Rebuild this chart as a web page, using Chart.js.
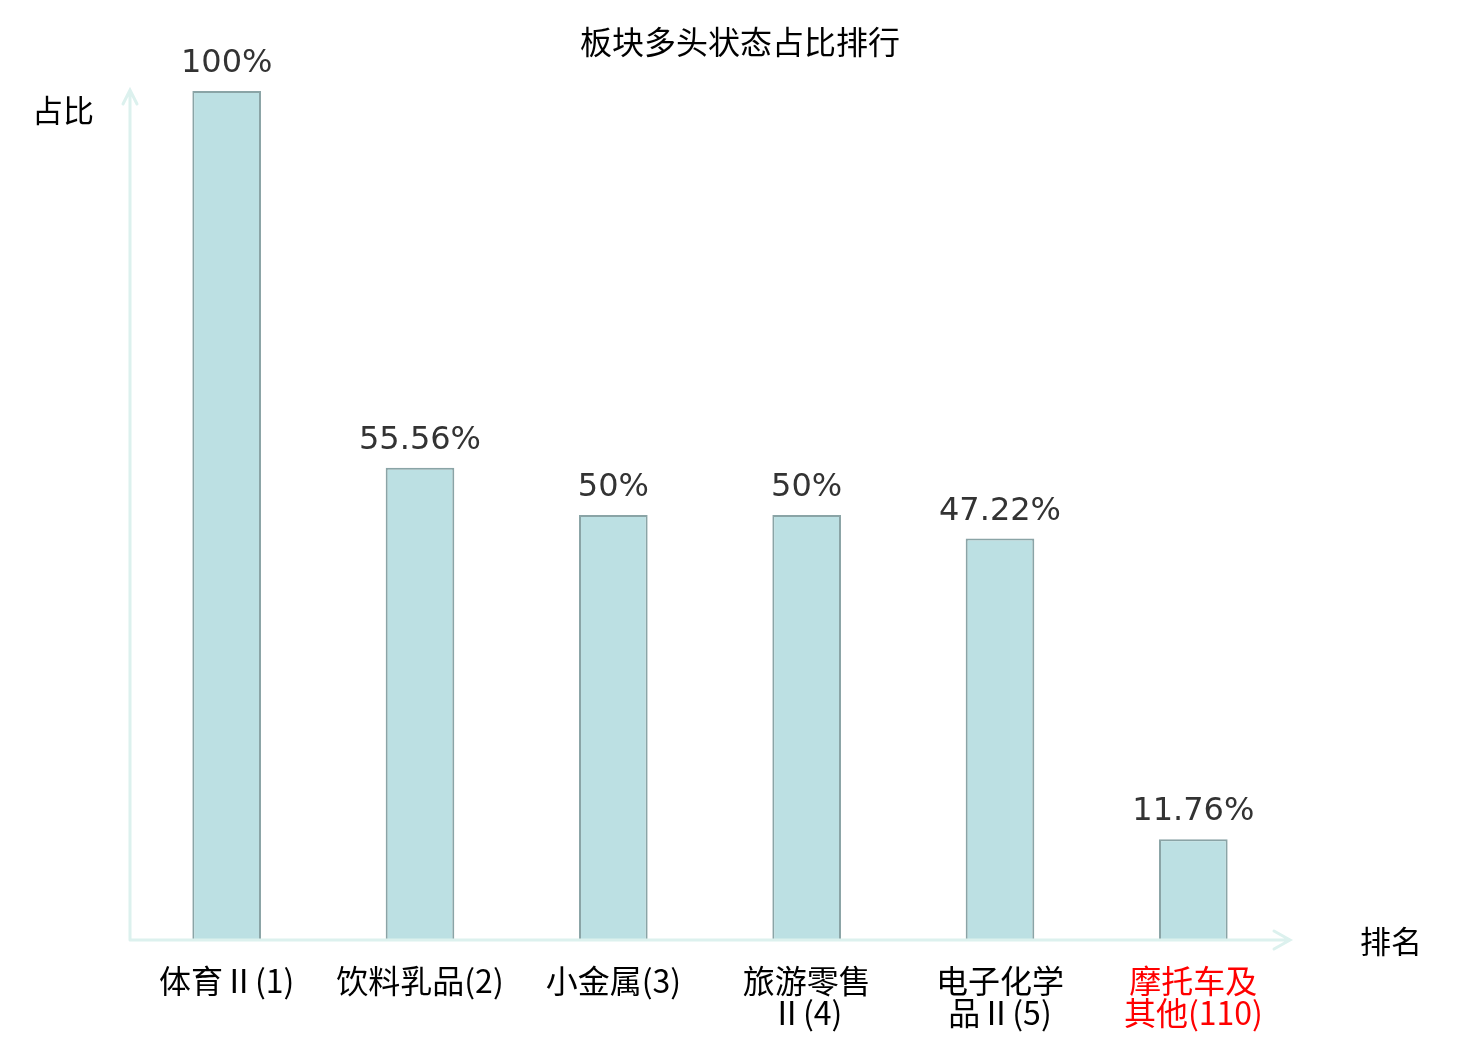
<!DOCTYPE html>
<html>
<head>
<meta charset="utf-8">
<script src="https://cdn.jsdelivr.net/npm/chart.js@4.4.1/dist/chart.umd.min.js"></script>
<style>
html,body{margin:0;padding:0;background:#fff;}
#wrap{width:1480px;height:1040px;position:relative;}
</style>
</head>
<body>
<div id="wrap"><canvas id="c" width="1480" height="1040"></canvas></div>
<script>
const categories = [["体育Ⅱ(1)"], ["饮料乳品(2)"], ["小金属(3)"], ["旅游零售", "Ⅱ(4)"], ["电子化学", "品Ⅱ(5)"], ["摩托车及", "其他(110)"]];
const values = [100, 55.56, 50, 50, 47.22, 11.76];
const valueLabels = ["100%", "55.56%", "50%", "50%", "47.22%", "11.76%"];
const tickColors = ["#000000", "#000000", "#000000", "#000000", "#000000", "#ff0000"];
const chartTitle = "板块多头状态占比排行";
const yAxisName = "占比";
const xAxisName = "排名";

const AXIS_COLOR = "#dcf1ee";

const decor = {
  id: "decor",
  afterDatasetsDraw(chart) {
    const ctx = chart.ctx;
    const a = chart.chartArea;
    const x0 = a.left, yb = a.bottom + 1;
    ctx.save();
    // axes with arrows
    ctx.strokeStyle = AXIS_COLOR;
    ctx.lineWidth = 3;
    ctx.lineCap = "round";
    ctx.beginPath();
    ctx.moveTo(x0, yb);
    ctx.lineTo(x0, a.top - 1);
    ctx.moveTo(x0 - 7, a.top + 13);
    ctx.lineTo(x0, a.top - 1);
    ctx.lineTo(x0 + 7, a.top + 13);
    ctx.moveTo(x0, yb);
    ctx.lineTo(a.right, yb);
    ctx.moveTo(a.right - 16, yb - 9);
    ctx.lineTo(a.right, yb);
    ctx.lineTo(a.right - 16, yb + 9);
    ctx.stroke();

    // title
    ctx.fillStyle = "#000";
    ctx.textAlign = "center";
    ctx.textBaseline = "middle";
    ctx.font = "32px 'Noto Sans CJK SC'";
    ctx.fillText(chartTitle, 740, 42);

    // axis names
    ctx.font = "31px 'Noto Sans CJK SC'";
    ctx.fillText(yAxisName, 63, 110);
    ctx.fillText(xAxisName, 1391, 941);

    // value labels
    const meta = chart.getDatasetMeta(0);
    ctx.fillStyle = "#333333";
    ctx.font = "32px 'DejaVu Sans'";
    ctx.textBaseline = "alphabetic";
    meta.data.forEach((bar, i) => {
      ctx.fillText(valueLabels[i], bar.x, bar.y - 19);
    });
    ctx.restore();
  }
};

new Chart(document.getElementById("c"), {
  type: "bar",
  data: {
    labels: categories,
    datasets: [{
      data: values,
      backgroundColor: "#bce0e3",
      borderColor: "#8aa4a6",
      borderWidth: 2,
      barPercentage: 0.355,
      categoryPercentage: 1.0
    }]
  },
  options: {
    responsive: false,
    animation: false,
    devicePixelRatio: 1,
    layout: { padding: { left: 130, right: 190, top: 91, bottom: 0 } },
    plugins: {
      legend: { display: false },
      tooltip: { enabled: false },
      title: { display: false }
    },
    scales: {
      y: {
        display: false,
        min: 0,
        max: 100
      },
      x: {
        grid: { display: false, drawTicks: false },
        border: { display: false },
        afterFit(scale) { scale.height = 101; },
        ticks: {
          padding: 26,
          maxRotation: 0,
          autoSkip: false,
          color: (ctx) => tickColors[ctx.index] || "#000",
          font: { family: "'Noto Sans CJK SC'", size: 32, lineHeight: 1.0 }
        }
      }
    }
  },
  plugins: [decor]
});
</script>
</body>
</html>
